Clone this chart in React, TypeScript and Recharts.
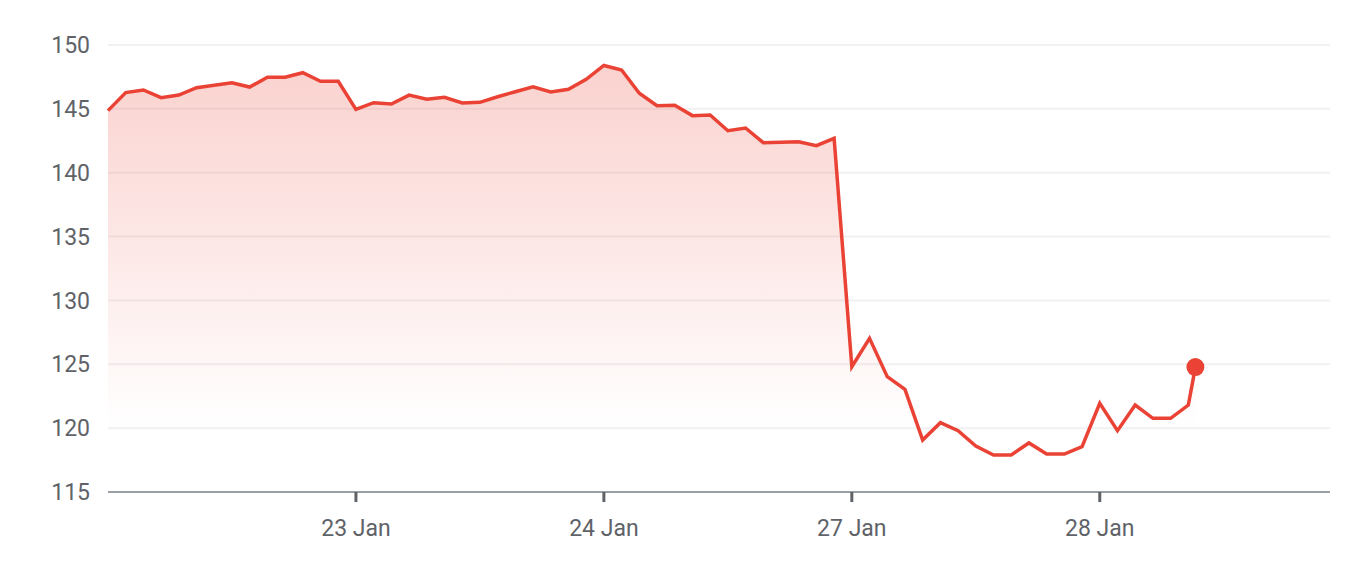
import React from "react"
import { Area, AreaChart, CartesianGrid, ReferenceDot, XAxis, YAxis } from "recharts"

// 14 half-hour slots per trading day, 22 Jan .. 28 Jan
const prices = [
  144.86, 146.27, 146.48, 145.88, 146.08, 146.66, 146.84, 147.05, 146.71, 147.47, 147.47, 147.83, 147.16, 147.16,
  144.96, 145.48, 145.38, 146.08, 145.75, 145.9, 145.46, 145.51, 145.95, 146.34, 146.73, 146.32, 146.53, 147.31,
  148.4, 148.04, 146.22, 145.25, 145.28, 144.47, 144.52, 143.29, 143.5, 142.35, 142.38, 142.43, 142.12, 142.69,
  124.81, 127.03, 124.03, 123.04, 119.07, 120.43, 119.8, 118.6, 117.9, 117.9, 118.84, 117.97, 117.97, 118.55,
  121.94, 119.8, 121.81, 120.77, 120.77, 121.81,
]
const liveSlot = 61.4
const livePrice = 124.78

const dayTicks = [14, 28, 42, 56]
const dayLabels = ["23 Jan", "24 Jan", "27 Jan", "28 Jan"]
const priceTicks = [115, 120, 125, 130, 135, 140, 145, 150]

const data = [
  ...prices.map((p, i) => ({ t: i, price: p })),
  { t: liveSlot, price: livePrice },
]

const RED = "#ea4335"

export default function App() {
  return (
    <AreaChart
      width={1338}
      height={560}
      data={data}
      margin={{ top: 37, right: 16, bottom: 16, left: 0 }}
      style={{ fontFamily: "Roboto" }}
    >
      <defs>
        <linearGradient id="fillRed" x1="0" y1="0" x2="0" y2="1">
          <stop offset="0%" stopColor={RED} stopOpacity={0.4} />
          <stop offset="85%" stopColor={RED} stopOpacity={0} />
        </linearGradient>
      </defs>
      <CartesianGrid vertical={false} stroke="#f1f1f1" strokeWidth={2} />
      <XAxis
        dataKey="t"
        type="number"
        domain={[0, 69]}
        ticks={dayTicks}
        tickFormatter={(v) => dayLabels[dayTicks.indexOf(v)]}
        height={60}
        tickSize={10}
        tickMargin={18}
        stroke="#9aa0a6"
        strokeWidth={2}
        tickLine={{ stroke: "#5f6368", strokeWidth: 3 }}
        tick={{ fill: "#5f6368", fontSize: 23 }}
      />
      <YAxis
        domain={[115, 150]}
        ticks={priceTicks}
        width={100}
        axisLine={false}
        tickLine={false}
        tickSize={0}
        tickMargin={18}
        tick={{ fill: "#5f6368", fontSize: 23 }}
      />
      <Area
        type="linear"
        dataKey="price"
        stroke={RED}
        strokeWidth={3.5}
        fill="url(#fillRed)"
        dot={false}
        activeDot={false}
        isAnimationActive={false}
      />
      <ReferenceDot x={liveSlot} y={livePrice} r={9} fill={RED} stroke="none" />
    </AreaChart>
  )
}
